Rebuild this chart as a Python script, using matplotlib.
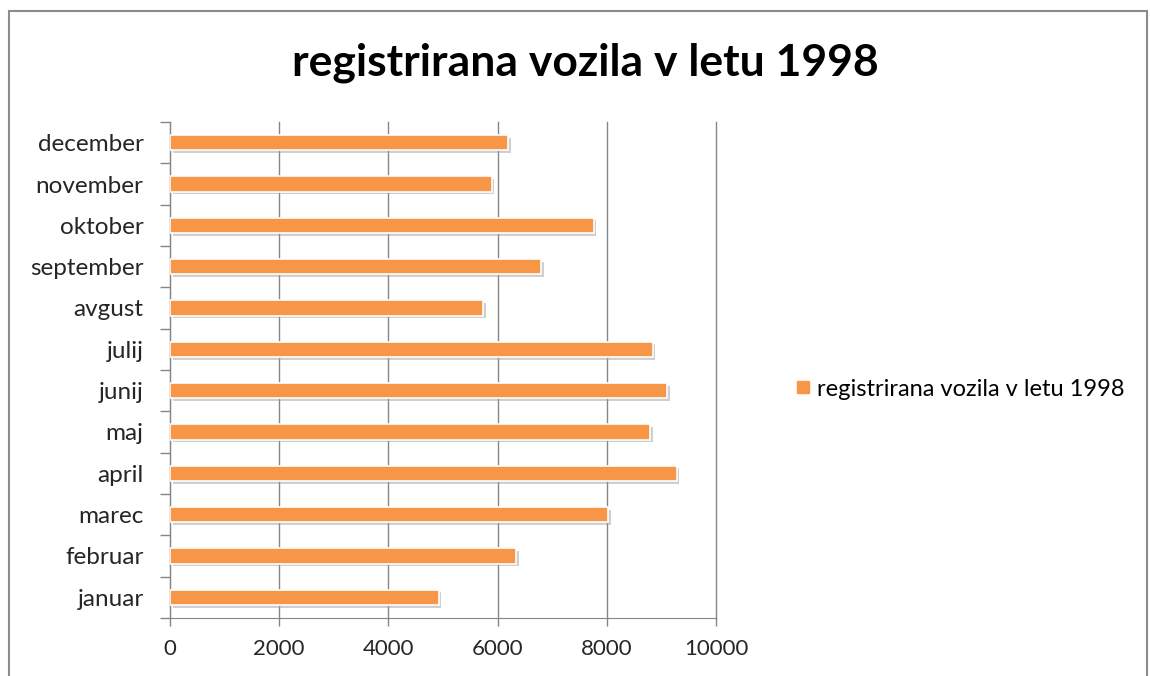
import matplotlib
matplotlib.use('Agg')
from matplotlib import pyplot as plt
from matplotlib import patheffects as pe
from matplotlib.patches import Rectangle
import numpy as np

plt.rcParams['font.family'] = ['Lato', 'DejaVu Sans']

months = ['januar', 'februar', 'marec', 'april', 'maj', 'junij',
          'julij', 'avgust', 'september', 'oktober', 'november', 'december']
vozila = [4920, 6340, 8020, 9280, 8800, 9110,
          8840, 5730, 6790, 7760, 5890, 6190]
xticks = [0, 2000, 4000, 6000, 8000, 10000]
series = 'registrirana vozila v letu 1998'
title = 'registrirana vozila v letu 1998'

orange = '#F79646'
grid_c = '#868686'

fig = plt.figure(figsize=(11.5, 6.76), dpi=100)
fig.patches.append(Rectangle((9/1150, -0.1), 1138/1150, 1 - 11/676 + 0.1,
                             transform=fig.transFigure, fill=False,
                             edgecolor='#8c8c8c', linewidth=1.5))

ax = fig.add_axes([170/1150, 1 - 618/676, 546/1150, 496/676])
y = np.arange(len(months))
bars = ax.barh(y, vozila, height=0.37, color=orange, edgecolor='white',
               linewidth=1.2, label=series, zorder=3)
for b in bars:
    b.set_path_effects([pe.SimplePatchShadow(offset=(2, -2), shadow_rgbFace='#a0a0a0', alpha=0.5),
                        pe.Normal()])

ax.set_xlim(0, 10000)
ax.set_ylim(-0.5, len(months) - 0.5)
ax.set_xticks(xticks)
ax.set_xticklabels([str(v) for v in xticks], fontsize=16, color='#262626')
ax.set_yticks(y)
ax.set_yticklabels(months, fontsize=17.5, color='#262626')
ax.set_yticks(np.arange(-0.5, len(months), 1), minor=True)
ax.tick_params(axis='y', which='major', length=0, pad=19)
ax.tick_params(axis='y', which='minor', length=7, color=grid_c, width=1)
ax.tick_params(axis='x', length=6, color=grid_c, width=1, pad=9)

ax.xaxis.grid(True, color=grid_c, linewidth=1, zorder=0)
for gl in ax.get_xgridlines():
    gl.set_clip_on(False)
ax.set_axisbelow(True)
for s in ['top', 'right']:
    ax.spines[s].set_visible(False)
ax.spines['left'].set_color(grid_c)
ax.spines['bottom'].set_color(grid_c)

fig.text(585/1150, 1 - 63/676, title, ha='center', va='center',
         fontsize=32, fontweight='bold', color='black')

handle = plt.Line2D([], [], marker='s', linestyle='none', color=orange, markersize=9)
fig.legend([handle], [series], loc='center left', bbox_to_anchor=(770/1150, 1 - 389/676),
           frameon=False, fontsize=17, handletextpad=0.1, handlelength=1)

fig.savefig('out.png', dpi=100, facecolor='white')
